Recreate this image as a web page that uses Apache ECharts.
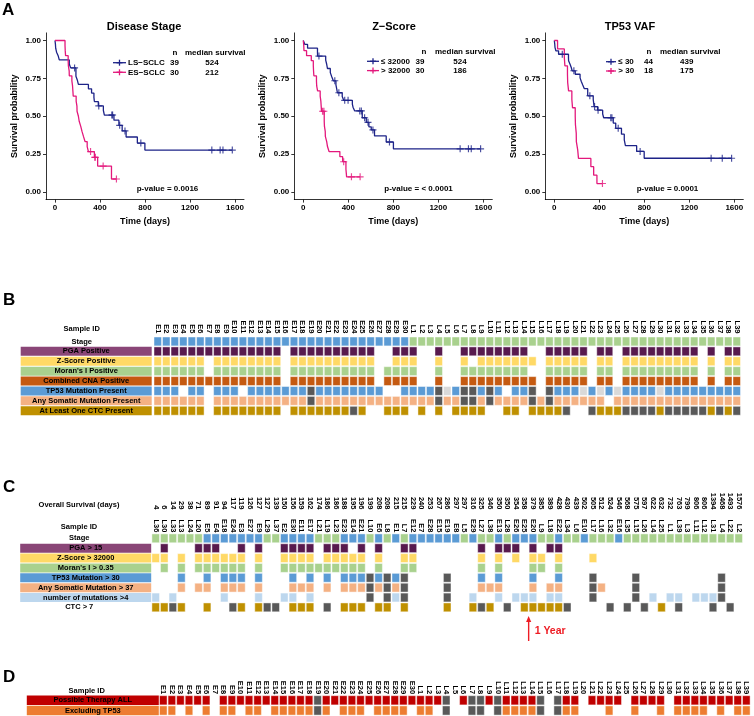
<!DOCTYPE html>
<html><head><meta charset="utf-8">
<script src="https://cdn.jsdelivr.net/npm/echarts@6/dist/echarts.min.js"></script>
<style>html,body{margin:0;padding:0;background:#fff}#c{width:754px;height:716px}</style>
</head><body><div id="c"></div>
<script>
const FONT = '"Liberation Sans", Arial, sans-serif';

// ---------------- Panel A : Kaplan-Meier data ----------------
const kmTicksX = [0, 400, 800, 1200, 1600];
const kmTicksY = [0, 0.25, 0.5, 0.75, 1];

const stageLS = [[0,1],[4,0.974],[6,0.949],[14,0.923],[29,0.897],[38,0.872],[127,0.845],[139,0.819],[186,0.764],[199,0.737],[208,0.710],[297,0.681],[325,0.653],[346,0.625],[350,0.597],[385,0.568],[430,0.538],[439,0.508],[524,0.474],[568,0.440],[597,0.403],[632,0.363],[732,0.323],[799,0.277],[1576,0.277]];
const stageLSCens = [[174,0.819],[389,0.568],[505,0.508],[512,0.508],[575,0.440],[622,0.403],[763,0.323],[1394,0.277],[1468,0.277],[1493,0.277],[1576,0.277]];
const stageES = [[0,1],[89,0.967],[91,0.933],[94,0.90],[117,0.867],[119,0.833],[126,0.80],[127,0.767],[150,0.733],[156,0.70],[159,0.667],[162,0.633],[188,0.60],[195,0.567],[196,0.533],[208,0.50],[215,0.467],[229,0.433],[240,0.40],[253,0.367],[267,0.333],[286,0.30],[297,0.267],[350,0.229],[379,0.171],[502,0.086],[546,0.086]];
const stageESCens = [[316,0.267],[354,0.229],[358,0.229],[428,0.171],[546,0.086]];

const zLow = [[0,1],[14,0.974],[38,0.949],[126,0.923],[127,0.897],[199,0.870],[208,0.843],[215,0.815],[240,0.788],[253,0.761],[267,0.734],[290,0.707],[297,0.680],[303,0.655],[346,0.630],[359,0.605],[436,0.58],[442,0.56],[457,0.535],[524,0.49],[560,0.46],[583,0.43],[604,0.41],[633,0.37],[737,0.33],[801,0.285],[1576,0.285]];
const zLowCens = [[139,0.897],[280,0.734],[316,0.655],[368,0.605],[398,0.605],[502,0.535],[516,0.535],[545,0.49],[575,0.46],[619,0.41],[766,0.33],[1394,0.285],[1468,0.285],[1493,0.285],[1576,0.285]];
const zHigh = [[0,1],[4,0.967],[6,0.933],[29,0.90],[71,0.867],[89,0.833],[91,0.80],[94,0.767],[117,0.733],[119,0.70],[127,0.667],[150,0.633],[156,0.60],[159,0.567],[162,0.533],[186,0.467],[188,0.433],[195,0.40],[196,0.367],[208,0.333],[215,0.30],[229,0.267],[325,0.233],[350,0.20],[379,0.15],[385,0.10],[505,0.10]];
const zHighCens = [[171,0.533],[183,0.533],[359,0.20],[428,0.10],[505,0.10]];

const vafLow = [[0,1],[4,0.977],[6,0.955],[14,0.932],[38,0.909],[126,0.888],[127,0.866],[139,0.845],[150,0.823],[159,0.80],[186,0.777],[229,0.753],[240,0.729],[253,0.706],[267,0.682],[297,0.635],[346,0.611],[350,0.588],[354,0.564],[385,0.54],[430,0.515],[439,0.49],[524,0.455],[546,0.42],[597,0.382],[622,0.344],[632,0.306],[732,0.268],[799,0.223],[1576,0.223]];
const vafLowCens = [[71,0.909],[174,0.80],[316,0.635],[358,0.564],[389,0.54],[502,0.49],[512,0.49],[568,0.42],[763,0.268],[1394,0.223],[1493,0.223],[1576,0.223]];
const vafHigh = [[0,1],[29,0.944],[89,0.889],[94,0.833],[117,0.778],[119,0.722],[127,0.667],[156,0.611],[162,0.556],[186,0.50],[188,0.444],[195,0.389],[196,0.333],[208,0.278],[215,0.222],[325,0.167],[350,0.111],[379,0.056],[428,0.056]];
const vafHighCens = [[428,0.056]];

const kmTitles = ['Disease Stage', 'Z\u2212Score', 'TP53 VAF'];
const kmGroups = [['LS\u2212SCLC', 'ES\u2212SCLC'], ['\u2264 32000', '> 32000'], ['\u2264 30', '> 30']];
const kmN = [[39, 30], [39, 30], [44, 18]];
const kmMedian = [[524, 212], [524, 186], [439, 175]];
const kmPvalues = ['p-value = 0.0016', 'p-value = < 0.0001', 'p-value = 0.0001'];

// ---------------- Panel B ----------------
const sampleIds = ['E1','E2','E3','E4','E5','E6','E7','E8','E9','E10','E11','E12','E13','E14','E15','E16','E17','E18','E19','E20','E21','E22','E23','E24','E25','E26','E27','E28','E29','E30',
  'L1','L2','L3','L4','L5','L6','L7','L8','L9','L10','L11','L12','L13','L14','L15','L16','L17','L18','L19','L20','L21','L22','L23','L24','L25','L26','L27','L28','L29','L30','L31','L32','L33','L34','L35','L36','L37','L38','L39'];
const rowNamesB = ['Stage','PGA Positive','Z-Score Positive',"Moran's I Positive",'Combined CNA Positive','TP53 Mutation Present','Any Somatic Mutation Present','At Least One CTC Present'];
// 1 = positive, 2 = dark grey (missing), 3 = light grey, 0 = empty
const bPGA   = [1,1,1,1,1,1,1,1,1,1,1,1,1,1,1,0,1,1,1,1,1,1,1,1,1,1,0,0,1,1, 1,0,0,1,0,0,1,1,1,1,1,1,1,1,0,0,1,1,1,1,1,0,1,1,0,1,1,1,1,1,1,1,1,1,0,1,0,1,1];
const bZ     = [1,1,1,1,1,1,0,1,1,1,1,1,1,1,1,0,1,1,1,1,1,1,1,1,1,1,0,0,1,1, 1,0,0,1,0,0,1,0,1,1,1,1,1,1,1,0,1,1,1,1,1,0,1,1,0,1,1,1,1,1,1,1,1,1,0,1,0,1,1];
const bMoran = [1,1,1,1,1,1,0,1,1,1,1,1,1,1,1,0,1,1,1,1,1,1,1,1,1,1,0,1,1,1, 1,0,0,1,0,0,1,1,1,1,1,1,1,1,0,0,1,1,1,1,1,0,1,1,0,1,1,1,1,1,1,1,1,1,0,1,0,1,1];
const bCNA   = [1,1,1,1,1,1,1,1,1,1,1,1,1,1,1,0,1,1,1,1,1,1,1,1,1,1,0,1,1,1, 1,0,0,1,0,0,1,1,1,1,1,1,1,1,1,0,1,1,1,1,1,0,1,1,0,1,1,1,1,1,1,1,1,1,0,1,0,1,1];
const bTP53  = [1,1,1,0,1,1,0,1,1,1,0,1,1,1,1,1,1,1,2,1,1,1,1,1,1,1,1,0,0,1, 1,1,1,2,3,1,2,2,1,2,1,0,1,1,2,0,2,1,1,1,3,1,3,1,3,1,1,1,1,3,1,1,1,1,1,1,1,1,1];
const bAny   = [1,1,1,1,1,1,0,1,1,1,1,1,1,1,1,1,1,1,2,1,1,1,1,1,1,1,1,1,1,1, 1,1,1,2,1,1,2,2,1,2,1,1,1,1,2,1,2,1,1,1,1,1,1,0,1,1,1,1,1,1,1,1,1,1,1,1,1,1,1];
const bCTC   = [1,1,1,1,1,1,0,1,1,1,1,1,1,1,1,0,1,1,1,1,1,1,1,2,1,0,0,1,1,1, 0,1,0,1,0,1,1,1,1,0,0,1,1,0,1,1,1,1,2,0,0,2,1,1,1,2,2,2,2,1,2,2,2,2,2,1,2,1,2];

// ---------------- Panel C ----------------
const cOrder = ['L36','L30','L33','L13','L24','L20','E5','E4','E18','E24','E3','E27','E9','L29','L37','E2','E30','E11','E17','L21','L19','L23','E23','E14','E21','L10','E6','L8','E1','L7','E12','E7','E28','E15','E19','E8','L5','E29','L27','L38','E13','L28','E26','E25','E20','L9','L18','E22','L34','L6','E10','L17','L16','L32','E16','L35','L15','L26','L14','L25','L1','L39','L3','L11','L12','L31','L4','L22','L2'];
const cSurvival = [4,6,14,29,38,71,89,91,94,117,119,126,127,127,139,150,156,159,162,174,186,186,188,195,196,199,208,208,215,215,229,240,253,267,286,297,297,316,325,346,350,350,354,358,379,385,389,428,430,439,502,505,512,524,546,568,575,597,622,632,732,763,799,806,806,1394,1468,1493,1576];
const rowNamesC = ['Stage','PGA > 15','Z-Score > 32000',"Moran's I > 0.35",'TP53 Mutation > 30','Any Somatic Mutation > 37','number of mutations >4','CTC > 7'];
const cPGA15 = ['L30','L20','E5','E4','E3','E9','E2','E30','E11','E17','L19','L23','E23','E21','E6','L7','E12','L27','E13','L28','E26','E20','L18','E22'];
const cZ32000 = ['L36','L30','L13','L20','E5','E4','E18','E24','E3','E9','E2','E30','E11','E17','L19','L23','E23','E14','E21','E6','L7','E12','L27','E13','E26','E20','L9','E22','L17'];
const cMoran035 = ['L30','L13','L20','E5','E4','E18','E24','E3','E9','E2','E30','E11','E17','L21','L19','L23','E23','E14','E21','E6','L7','E12','L27','E13','E20','L9','E22'];
const cTP53gt30 = ['L13','E5','E18','E24','E3','E9','E30','E17','L19','E23','E14','E21','E6','E1','L27','E13','E20','E22'];
const cAnyGt37 = ['L13','L20','E5','E18','E24','E3','E9','E30','E11','E17','L19','E23','E14','E21','E6','E1','L27','L38','E13','E20','L18','E22','L16'];
const cMutGt4 = ['L36','L33','E18','E9','E2','E30','E17','E1','E29','E13','E26','E25','E20','L18','E22','L14','L1','L39','L11','L12','L31'];
const cMutMissing = ['L10','L8','L7','E19','L17','L15','L4'];
const cCTCgt7 = ['L36','L30','L13','E5','E3','E9','E30','E11','E17','E23','E14','E21','E6','L8','L7','E19','E29','L38','E25','E20','L9','L18','E22','L25'];
const cCTCMissing = ['L33','E24','L29','L37','L19','L27','L28','L34','L32','L35','L26','L39','L31','L22'];
const oneYearDays = 365;

// ---------------- Panel D ----------------
const rowNamesD = ['Possible Therapy ALL', 'Excluding TP53'];
const dAll     = [1,1,1,1,1,1,0,1,1,1,1,1,1,1,1,1,1,1,2,1,1,1,1,1,1,1,1,1,1,1, 1,1,1,2,0,1,2,2,1,2,1,1,1,1,2,0,2,1,1,0,1,1,1,1,0,1,1,1,1,0,1,1,1,1,1,1,1,1,1];
const dNoTP53  = [1,1,0,1,0,1,0,1,1,0,1,1,0,1,1,1,1,1,2,1,0,1,1,1,0,1,1,1,1,0, 1,1,0,2,0,0,2,2,0,2,1,1,1,1,2,0,2,1,1,0,0,0,1,0,0,1,0,0,1,0,1,1,1,1,0,1,0,1,1];

// ---------------- styles ----------------
const BLUE_KM = '#1d2388', PINK_KM = '#e3187c';
const C_E = '#5B9BD5', C_L = '#A9D18E', DARK = '#595959', LIGHT = '#D9D9D9';
const barColorsB = [null, '#8A4677', '#FFD966', '#A9D18E', '#C55A11', '#5B9BD5', '#F4B183', '#BF9000'];
const cellColorsB = [null, '#581A4E', '#FFD966', '#A9D18E', '#C55A11', '#5B9BD5', '#F4B183', '#BF9000'];
const barColorsC = [null, '#8A4677', '#FFD966', '#A9D18E', '#5B9BD5', '#F4B183', '#BDD7EE', null];
const cellColorsC = [null, '#581A4E', '#FFD966', '#A9D18E', '#5B9BD5', '#F4B183', '#BDD7EE', '#BF9000'];
const barColorsD = ['#C00000', '#ED7D31'];

const kmGrids = [
  {left: 46, top: 32.9, width: 198, height: 166.7},
  {left: 294.3, top: 32.9, width: 198, height: 166.7},
  {left: 545.3, top: 32.9, width: 198, height: 166.7}
];
const PLUS = 'path://M2.5,0H3.5V2.5H6V3.5H3.5V6H2.5V3.5H0V2.5H2.5Z';

const chart = echarts.init(document.getElementById('c'), null, {renderer: 'canvas'});

function kmXAxis(i) {
  return {type: 'value', gridIndex: i, min: -80, max: 1680,
    name: 'Time (days)', nameLocation: 'middle', nameGap: 17,
    nameTextStyle: {fontSize: 9, fontWeight: 'bold', color: '#000', fontFamily: FONT},
    axisLine: {onZero: false, lineStyle: {color: '#000', width: 0.8}},
    axisTick: {show: true, length: 3, customValues: kmTicksX, lineStyle: {color: '#000', width: 0.8}},
    axisLabel: {customValues: kmTicksX, formatter: v => String(Math.round(v)), fontSize: 8, fontWeight: 'bold', color: '#000', margin: 4, fontFamily: FONT},
    splitLine: {show: false}};
}
function kmYAxis(i) {
  return {type: 'value', gridIndex: i, min: -0.05, max: 1.05,
    name: 'Survival probability', nameLocation: 'middle', nameGap: 27,
    nameTextStyle: {fontSize: 9, fontWeight: 'bold', color: '#000', fontFamily: FONT},
    axisLine: {show: true, onZero: false, lineStyle: {color: '#000', width: 0.8}},
    axisTick: {show: true, length: 3, customValues: kmTicksY, lineStyle: {color: '#000', width: 0.8}},
    axisLabel: {customValues: kmTicksY, formatter: v => v.toFixed(2), fontSize: 8, fontWeight: 'bold', color: '#000', margin: 5, fontFamily: FONT},
    splitLine: {show: false}};
}
function kmSeries(i, steps, cens, color) {
  return [
    {type: 'line', xAxisIndex: i, yAxisIndex: i, data: steps, step: 'end', symbol: 'none', showSymbol: false,
      lineStyle: {color: color, width: 1.3}, itemStyle: {color: color}, silent: true, z: 3},
    {type: 'scatter', xAxisIndex: i, yAxisIndex: i, data: cens, symbol: PLUS, symbolSize: 7,
      itemStyle: {color: color}, silent: true, z: 4}
  ];
}

function richFor(colors, width, padRight, h) {
  const rich = {};
  colors.forEach((c, i) => {
    const base = {height: h, lineHeight: h, align: 'center', fontSize: 7.5, fontWeight: 'bold', color: '#000', fontFamily: FONT};
    rich['r' + i] = c ? Object.assign({backgroundColor: c, width: width}, base)
                      : Object.assign({width: width - padRight, padding: [0, padRight, 0, 0]}, base);
  });
  return rich;
}
function catXAxis(grid, data, margin, offset) {
  return {type: 'category', gridIndex: grid, position: 'top', data: data, offset: offset || 0,
    axisLine: {show: false}, axisTick: {show: false}, splitLine: {show: false},
    axisLabel: {interval: 0, rotate: 90, fontSize: 7.5, fontWeight: 'bold', color: '#000', margin: margin, fontFamily: FONT}};
}
function catYAxis(grid, names, colors, width, padRight, h, margin) {
  return {type: 'category', gridIndex: grid, inverse: true, data: names,
    axisLine: {show: false}, axisTick: {show: false}, splitLine: {show: false},
    axisLabel: {interval: 0, margin: margin, formatter: (v, i) => '{r' + i + '|' + v + '}', rich: richFor(colors, width, padRight, h)}};
}
function cellRender(params, api) {
  const c = api.coord([api.value(0), api.value(1)]);
  const w = api.size([1, 0])[0], h = api.size([0, 1])[1];
  return {type: 'rect', shape: {x: c[0] - w / 2 + 0.5, y: c[1] - h / 2 + 0.5, width: w - 1, height: h - 1},
    style: {fill: api.visual('color'), stroke: 'rgba(255,255,255,0.45)', lineWidth: 1}};
}
function codeColor(code, base) {
  return code === 1 ? base : code === 2 ? DARK : code === 3 ? LIGHT : null;
}

// Panel B cells
const bRows = [null, bPGA, bZ, bMoran, bCNA, bTP53, bAny, bCTC];
const bData = [];
sampleIds.forEach((id, i) => {
  bData.push({value: [i, 0], itemStyle: {color: id[0] === 'E' ? C_E : C_L}});
  for (let r = 1; r < bRows.length; r++) {
    const col = codeColor(bRows[r][i], cellColorsB[r]);
    if (col) bData.push({value: [i, r], itemStyle: {color: col}});
  }
});
// Panel C cells
const cRows = [null, [cPGA15, []], [cZ32000, []], [cMoran035, []], [cTP53gt30, cMutMissing], [cAnyGt37, cMutMissing], [cMutGt4, cMutMissing], [cCTCgt7, cCTCMissing]];
const cData = [];
cOrder.forEach((id, i) => {
  cData.push({value: [i, 0], itemStyle: {color: id[0] === 'E' ? C_E : C_L}});
  for (let r = 1; r < cRows.length; r++) {
    let col = null;
    if (cRows[r][0].indexOf(id) >= 0) col = cellColorsC[r];
    else if (cRows[r][1].indexOf(id) >= 0) col = DARK;
    if (col) cData.push({value: [i, r], itemStyle: {color: col}});
  }
});
// Panel D cells
const dRows = [dAll, dNoTP53];
const dData = [];
sampleIds.forEach((id, i) => {
  dRows.forEach((row, r) => {
    const col = codeColor(row[i], barColorsD[r]);
    if (col) dData.push({value: [i, r], itemStyle: {color: col}});
  });
});

const option = {
  animation: false,
  backgroundColor: '#fff',
  textStyle: {fontFamily: FONT},
  grid: [
    kmGrids[0], kmGrids[1], kmGrids[2],
    {left: 153.5, top: 336.5, width: 587.5, height: 79.2},
    {left: 151.4, top: 533.4, width: 591.6, height: 78.9},
    {left: 159, top: 695.2, width: 591.6, height: 20.4}
  ],
  xAxis: [
    kmXAxis(0), kmXAxis(1), kmXAxis(2),
    catXAxis(3, sampleIds, 3),
    catXAxis(4, cOrder, 1),
    catXAxis(4, cSurvival.map(String), 1, 23),
    catXAxis(5, sampleIds, 1)
  ],
  yAxis: [
    kmYAxis(0), kmYAxis(1), kmYAxis(2),
    catYAxis(3, rowNamesB, barColorsB, 131, 9, 9, 1.8),
    catYAxis(4, rowNamesC, barColorsC, 131, 13, 9, 0.2),
    catYAxis(5, rowNamesD, barColorsD, 132, 0, 9.4, 0.2)
  ],
  series: [].concat(
    kmSeries(0, stageLS, stageLSCens, BLUE_KM), kmSeries(0, stageES, stageESCens, PINK_KM),
    kmSeries(1, zLow, zLowCens, BLUE_KM), kmSeries(1, zHigh, zHighCens, PINK_KM),
    kmSeries(2, vafLow, vafLowCens, BLUE_KM), kmSeries(2, vafHigh, vafHighCens, PINK_KM),
    [
      {type: 'custom', xAxisIndex: 3, yAxisIndex: 3, renderItem: cellRender, data: bData, silent: true},
      {type: 'custom', xAxisIndex: 4, yAxisIndex: 4, renderItem: cellRender, data: cData, silent: true},
      {type: 'custom', xAxisIndex: 6, yAxisIndex: 5, renderItem: cellRender, data: dData, silent: true}
    ])
};
chart.setOption(option);

// ---------------- annotations ----------------
function txt(x, y, text, size, opts) {
  opts = opts || {};
  return {type: 'text', x: x, y: y, silent: true, z: 10,
    style: {text: text, font: 'bold ' + size + 'px ' + FONT, fill: opts.fill || '#000',
      textAlign: opts.align || 'left', align: opts.align || 'left',
      textVerticalAlign: 'middle', verticalAlign: 'middle'}};
}
function line(x1, y1, x2, y2, color, w) {
  return {type: 'line', silent: true, z: 10, shape: {x1: x1, y1: y1, x2: x2, y2: y2}, style: {stroke: color, lineWidth: w}};
}
const els = [];
els.push(txt(2, 10, 'A', 17), txt(3, 300, 'B', 17), txt(3, 487, 'C', 17), txt(3, 677.5, 'D', 17));
const titleX = [144, 394, 630];
const legendCfg = [
  {nX: 175, medX: 185, keyX1: 113, keyX2: 126, labX: 128, nLX: 170, medC: 212, y0: 52.7, y1: 62.7, y2: 72.3},
  {nX: 424, medX: 435, keyX1: 367, keyX2: 379, labX: 381, nLX: 415.5, medC: 460, y0: 51.7, y1: 61.3, y2: 70.6},
  {nX: 649, medX: 660, keyX1: 606, keyX2: 616, labX: 618.3, nLX: 644, medC: 686.7, y0: 51.7, y1: 61.7, y2: 71}
];
const pvalX = [136.7, 384.3, 636.7];
for (let k = 0; k < 3; k++) {
  const L = legendCfg[k];
  els.push(txt(titleX[k], 27, kmTitles[k], 11, {align: 'center'}));
  els.push(txt(L.nX, L.y0, 'n', 8, {align: 'center'}), txt(L.medX, L.y0, 'median survival', 8));
  [[L.y1, BLUE_KM, 0], [L.y2, PINK_KM, 1]].forEach(([yy, col, g]) => {
    els.push(line(L.keyX1, yy, L.keyX2, yy, col, 1.3));
    const mx = (L.keyX1 + L.keyX2) / 2;
    els.push(line(mx - 3, yy, mx + 3, yy, col, 1.3), line(mx, yy - 3, mx, yy + 3, col, 1.3));
    els.push(txt(L.labX, yy, kmGroups[k][g], 8), txt(L.nLX, yy, String(kmN[k][g]), 8),
             txt(L.medC, yy, String(kmMedian[k][g]), 8, {align: 'center'}));
  });
  els.push(txt(pvalX[k], 189, kmPvalues[k], 8));
}
els.push(txt(81.7, 329.3, 'Sample ID', 7.5, {align: 'center'}));
els.push(txt(79, 505, 'Overall Survival (days)', 7.5, {align: 'center'}));
els.push(txt(79, 526.7, 'Sample ID', 7.5, {align: 'center'}));
els.push(txt(86.7, 690.7, 'Sample ID', 7.5, {align: 'center'}));

// one-year arrow placed between the last patient before and the first after 365 days
let before = 0;
cSurvival.forEach((d, i) => { if (d < oneYearDays) before = i; });
const pA = chart.convertToPixel({xAxisIndex: 4}, before);
const pB = chart.convertToPixel({xAxisIndex: 4}, before + 1);
const ax = (pA + pB) / 2;
const RED = '#ee1c24';
els.push(line(ax, 641, ax, 620, RED, 1.4));
els.push({type: 'polygon', silent: true, z: 10, shape: {points: [[ax - 2.6, 622], [ax, 616], [ax + 2.6, 622]]}, style: {fill: RED}});
els.push(txt(ax + 6, 631, '1 Year', 10.5, {fill: RED}));

chart.setOption({graphic: {elements: els}});
</script>
</body></html>
